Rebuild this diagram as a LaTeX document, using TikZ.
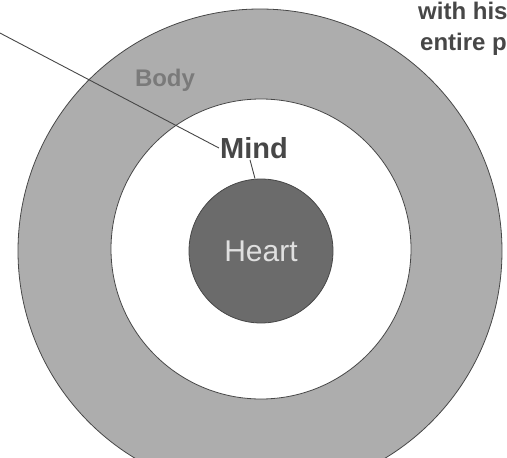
\documentclass[tikz,border=0pt]{standalone}
\usepackage{fontspec}
\setmainfont{Liberation Sans}
\definecolor{ringgray}{gray}{0.68}
\definecolor{heartgray}{gray}{0.42}
\definecolor{inkgray}{gray}{0.28}
\begin{document}
\begin{tikzpicture}[x=1pt, y=-1pt,
  disc/.style={circle, draw=inkgray, line width=0.8pt, inner sep=0pt},
  lbl/.style={font=\fontsize{29}{32}\selectfont\bfseries, inner sep=1pt},
  note/.style={anchor=base west, inner sep=0pt, text=inkgray,
    font=\fontsize{24}{28}\selectfont\bfseries}]
\useasboundingbox (0,0) rectangle (507,458);
\clip (0,0) rectangle (507,458);
% Tres circulos concentricos
\node[disc, fill=ringgray, minimum size=484pt] (body) at (260,251) {};
\node[disc, fill=white, minimum size=300pt] (mind) at (261,249) {};
\node[disc, fill=heartgray, minimum size=144pt, text=white!88!black,
  font=\fontsize{30}{32}\selectfont] (heart) at (261,251) {Heart};
% Rotulos
\node[lbl, font=\fontsize{24}{28}\selectfont\bfseries, text=black!52] (bodylabel) at (165,80) {Body};
\node[lbl, text=inkgray] (mindlabel) at (254,148) {Mind};
% Texto cortado no canto superior direito
\node[note] (noteA) at (418,19) {with his};
\node[note] (noteB) at (420,50) {entire p};
% Linha de chamada vinda de fora da figura
\coordinate (lead) at (-2,32);
\draw[inkgray, line width=0.9pt] (lead) -- (mindlabel.west);
\draw[inkgray, line width=0.9pt] ([xshift=-4pt]mindlabel.south) -- ([xshift=-6pt]heart.north);
\end{tikzpicture}
\end{document}
